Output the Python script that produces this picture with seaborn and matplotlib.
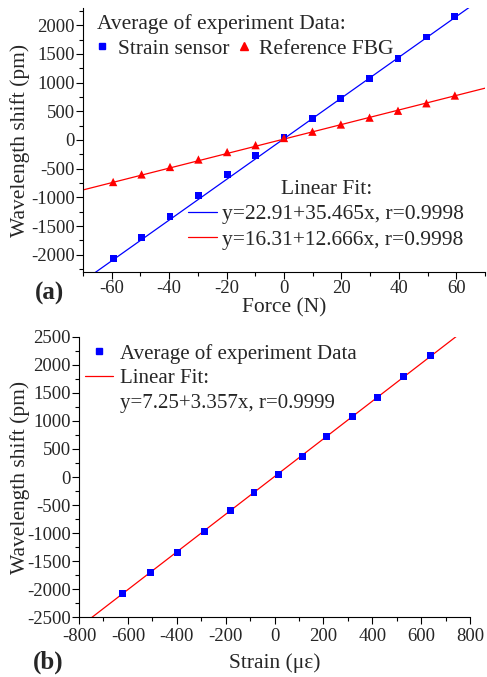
import numpy as np
import pandas as pd
import matplotlib.pyplot as plt
from matplotlib.lines import Line2D
from matplotlib.ticker import MultipleLocator
import seaborn as sns

force = [-59.5, -49.6, -39.7, -29.8, -19.8, -9.9, 0.0, 9.9, 19.8, 29.8, 39.7, 49.6, 59.5]
sensor_shift = [-2070, -1705, -1340, -975, -600, -270, 50, 370, 723, 1070, 1425, 1795, 2158]
fbg_shift = [-732, -600, -470, -340, -210, -90, 35, 145, 270, 390, 510, 640, 775]
strain = [-621, -507, -396, -288, -179, -84, 17, 113, 214, 319, 421, 529, 639]

# 선형 피팅 계수 (절편, 기울기)
fit_sensor = (22.91, 35.465)
fit_fbg = (16.31, 12.666)
fit_strain = (7.25, 3.357)

fit_labels_a = ["y=22.91+35.465x, r=0.9998", "y=16.31+12.666x, r=0.9998"]
fit_label_b = "y=7.25+3.357x, r=0.9999"

BLUE = "#0000FF"
RED = "#FF0000"

sns.set_theme(style="ticks")
plt.rcParams['font.family'] = ['Liberation Serif', 'DejaVu Serif']
plt.rcParams['axes.unicode_minus'] = False

fig = plt.figure(figsize=(4.87, 6.77), dpi=100)
ax1 = fig.add_axes([83 / 487, 1 - 272 / 677, 402 / 487, 264 / 677])
ax2 = fig.add_axes([79 / 487, 1 - 617.3 / 677, 391 / 487, 280.6 / 677])

df = pd.DataFrame({"force": force, "sensor": sensor_shift, "fbg": fbg_shift, "strain": strain})


def fit_line(ax, xlim, coef, color):
    xs = np.linspace(xlim[0], xlim[1], 50)
    sns.lineplot(x=xs, y=coef[0] + coef[1] * xs, color=color, lw=0.9, ax=ax)


def style_axis(ax, xmaj, ymaj, xpad=1):
    sns.despine(ax=ax, top=True, right=True)
    ax.xaxis.set_major_locator(MultipleLocator(xmaj))
    ax.xaxis.set_minor_locator(MultipleLocator(xmaj / 2))
    ax.yaxis.set_major_locator(MultipleLocator(ymaj))
    ax.yaxis.set_minor_locator(MultipleLocator(ymaj / 2))
    ax.tick_params(which="major", direction="out", length=5, width=0.8, labelsize=13.5, pad=1, color="black")
    ax.tick_params(axis="x", which="major", pad=xpad)
    ax.tick_params(which="minor", direction="out", length=3, width=0.8, color="black")
    for s in ax.spines.values():
        s.set_color("black")
        s.set_linewidth(0.8)


# (a) 힘 - 파장 이동
xlim_a = (-70, 70)
fit_line(ax1, xlim_a, fit_sensor, BLUE)
fit_line(ax1, xlim_a, fit_fbg, RED)
sns.scatterplot(data=df, x="force", y="sensor", marker="s", s=25, color=BLUE, edgecolor="none", ax=ax1, zorder=3)
sns.scatterplot(data=df, x="force", y="fbg", marker="^", s=36, color=RED, edgecolor="none", ax=ax1, zorder=3)
ax1.set(xlim=xlim_a, ylim=(-2300, 2300))
style_axis(ax1, 20, 500)
ax1.set_xlabel("Force (N)", fontsize=15.5, labelpad=1)
ax1.set_ylabel("Wavelength shift (pm)", fontsize=15.5)
ax1.yaxis.set_label_coords(-0.132, 0.5)

h_data = [Line2D([], [], marker="s", color=BLUE, ls="none", markersize=4.9),
          Line2D([], [], marker="^", color=RED, ls="none", markersize=6)]
leg1 = ax1.legend(h_data, ["Strain sensor", "Reference FBG"], title="Average of experiment Data:",
                  ncol=2, loc="upper left", bbox_to_anchor=(0.035, 0.976), frameon=False,
                  fontsize=15.5, title_fontsize=15.5, alignment="left", borderpad=0, borderaxespad=0,
                  handlelength=0.5, handletextpad=0.45, columnspacing=0.45, labelspacing=0.2)
ax1.add_artist(leg1)
h_fit = [Line2D([], [], color=BLUE, lw=0.9), Line2D([], [], color=RED, lw=0.9)]
ax1.legend(h_fit, fit_labels_a, title="Linear Fit:", loc="upper left", bbox_to_anchor=(0.261, 0.35),
           frameon=False, fontsize=15.5, title_fontsize=15.5, borderpad=0, borderaxespad=0,
           handlelength=1.35, handletextpad=0.25, labelspacing=0.26)

# (b) 변형률 - 파장 이동
xlim_b = (-800, 800)
fit_line(ax2, xlim_b, fit_strain, RED)
sns.scatterplot(data=df, x="strain", y="sensor", marker="s", s=25, color=BLUE, edgecolor="none", ax=ax2, zorder=3)
ax2.set(xlim=xlim_b, ylim=(-2500, 2500))
style_axis(ax2, 200, 500, xpad=3)
ax2.set_xlabel("Strain (\u03bc\u03b5)", fontsize=15.5, labelpad=6)
ax2.set_ylabel("Wavelength shift (pm)", fontsize=15.5)
ax2.yaxis.set_label_coords(-0.125, 0.5)

h_b = [Line2D([], [], marker="s", color=BLUE, ls="none", markersize=4.9),
       Line2D([], [], color=RED, lw=0.9),
       Line2D([], [], color="none")]
ax2.legend(h_b, ["Average of experiment Data", "Linear Fit:", fit_label_b], loc="upper left",
           bbox_to_anchor=(0.015, 0.975), frameon=False, fontsize=15, borderpad=0, borderaxespad=0,
           handlelength=1.35, handletextpad=0.33, labelspacing=0.25)

fig.text(35 / 487, 1 - 293 / 677, "(a)", fontsize=18, fontweight="bold", va="center", ha="left")
fig.text(33 / 487, 1 - 662 / 677, "(b)", fontsize=18, fontweight="bold", va="center", ha="left")

fig.savefig("out.png", dpi=100)
